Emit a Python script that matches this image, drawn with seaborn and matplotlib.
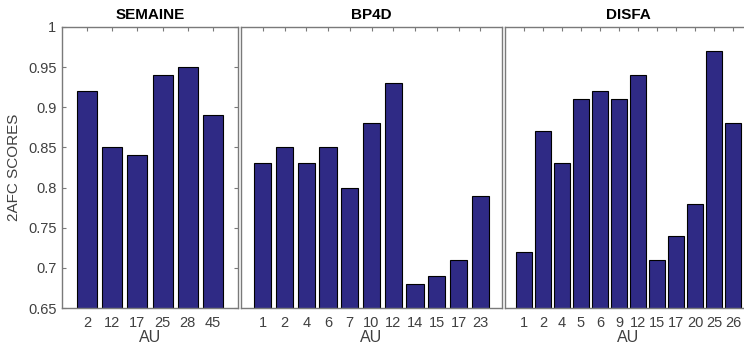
import matplotlib
matplotlib.use("Agg")
import matplotlib.pyplot as plt
import seaborn as sns
import pandas as pd

# ---- data ----
semaine_au = ["2", "12", "17", "25", "28", "45"]
semaine_scores = [0.92, 0.85, 0.84, 0.94, 0.95, 0.89]

bp4d_au = ["1", "2", "4", "6", "7", "10", "12", "14", "15", "17", "23"]
bp4d_scores = [0.83, 0.85, 0.83, 0.85, 0.80, 0.88, 0.93, 0.68, 0.69, 0.71, 0.79]

disfa_au = ["1", "2", "4", "5", "6", "9", "12", "15", "17", "20", "25", "26"]
disfa_scores = [0.72, 0.87, 0.83, 0.91, 0.92, 0.91, 0.94, 0.71, 0.74, 0.78, 0.97, 0.88]

titles = ["SEMAINE", "BP4D", "DISFA"]
ytick_vals = [0.65, 0.7, 0.75, 0.8, 0.85, 0.9, 0.95, 1.0]
ytick_labels = ["0.65", "0.7", "0.75", "0.8", "0.85", "0.9", "0.95", "1"]

sns.set_style("white")
plt.rcParams["font.family"] = ["Liberation Sans", "DejaVu Sans"]

W, H = 744, 349
fig = plt.figure(figsize=(W / 100, H / 100), dpi=100)

bottom = 1 - 308 / H
height = (308 - 27) / H
positions = [
    (62 / W, bottom, (238 - 62) / W, height),
    (241 / W, bottom, (502 - 241) / W, height),
    (505 / W, bottom, (752 - 505) / W, height),
]

bar_color = "#2f2a85"
tick_gray = "#404040"
spine_gray = "#7a7a7a"

panels = [(semaine_au, semaine_scores), (bp4d_au, bp4d_scores), (disfa_au, disfa_scores)]

for i, ((aus, scores), pos, title) in enumerate(zip(panels, positions, titles)):
    ax = fig.add_axes(pos)
    df = pd.DataFrame({"AU": aus, "score": scores})
    sns.barplot(data=df, x="AU", y="score", order=aus, color=bar_color,
                saturation=1, width=0.8, edgecolor="black", linewidth=0.8, ax=ax)
    ax.set_xlim(-1, len(aus))
    ax.set_ylim(0.65, 1.0)
    ax.set_title(title, fontsize=11, fontweight="bold", color="black", pad=6)
    ax.set_xlabel("AU", fontsize=11.5, color=tick_gray, labelpad=0)
    for s in ax.spines.values():
        s.set_visible(True)
        s.set_color(spine_gray)
        s.set_linewidth(1.0)
    ax.tick_params(axis="x", direction="in", length=3, top=True, bottom=True,
                   labelsize=10.5, labelcolor=tick_gray, color=spine_gray, pad=6)
    if i == 0:
        ax.set_yticks(ytick_vals)
        ax.set_yticklabels(ytick_labels)
        ax.tick_params(axis="y", direction="in", length=3, left=True, right=True,
                       labelsize=10.5, labelcolor=tick_gray, color=spine_gray, pad=4)
        ax.set_ylabel("2AFC SCORES", fontsize=11, color=tick_gray, labelpad=5)
    else:
        ax.set_yticks([])
        ax.set_ylabel("")

fig.savefig("out.png", dpi=100)
